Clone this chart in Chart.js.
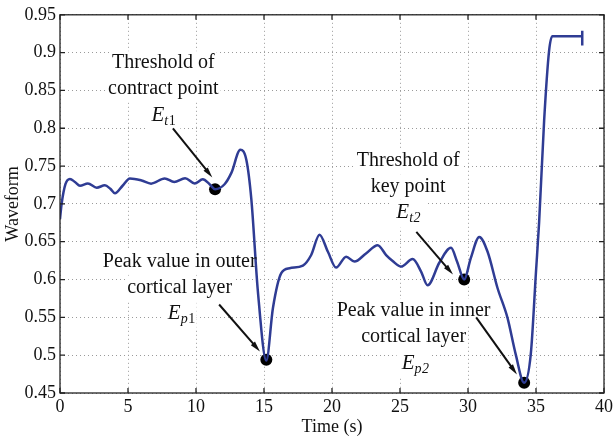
<!DOCTYPE html>
<html>
<head>
<meta charset="utf-8">
<script src="https://cdn.jsdelivr.net/npm/chart.js@4.4.0/dist/chart.umd.min.js"></script>
<style>
  html, body { margin: 0; padding: 0; background: #fff; }
  #wrap { width: 616px; height: 438px; }
</style>
</head>
<body>
<div id="wrap"><canvas id="wave-chart" width="616" height="438"></canvas></div>
<script>
// waveform trace
const time = [0, 0.12, 0.4, 0.73, 1.1, 1.47, 2.05, 2.7, 3.3, 3.7, 4.04, 4.6, 5.14, 6.0, 6.7, 7.7, 8.4, 9.2, 9.9, 10.5,
  11.0, 11.4, 12.1, 12.6, 13.26, 13.7, 14.07, 14.55, 15.17, 15.66, 16.27, 16.88, 17.86, 18.47, 19.08, 19.7, 20.3,
  21.04, 21.65, 22.5, 23.36, 23.98, 24.46, 25.08, 25.93, 26.55, 27.03, 27.9, 28.75, 29.2, 29.72, 30.2, 30.83, 31.44,
  32.17, 32.9, 33.5, 34.13, 34.62, 35.0, 35.23, 35.6, 35.96, 36.2, 38.4];
const wave = [0.68, 0.70, 0.726, 0.733, 0.729, 0.724, 0.727, 0.7215, 0.7245, 0.72, 0.714, 0.724, 0.7337, 0.731, 0.7268,
  0.7337, 0.729, 0.734, 0.727, 0.7325, 0.726, 0.7195, 0.726, 0.741, 0.7715, 0.7585, 0.706, 0.5845, 0.493, 0.5627,
  0.6084, 0.615, 0.6184, 0.6324, 0.6593, 0.6367, 0.6158, 0.6302, 0.6237, 0.6345, 0.6454, 0.6324, 0.6245, 0.6171,
  0.6271, 0.6106, 0.5923, 0.6225, 0.6419, 0.6236, 0.600, 0.628, 0.6563, 0.6367, 0.5888, 0.5496, 0.5018, 0.4635,
  0.502, 0.6106, 0.676, 0.8107, 0.902, 0.9217, 0.9217];

// end cap of the trace
const capTime = [38.4, 38.4];
const capWave = [0.9095, 0.929];

// key points
const keyTime = [11.4, 15.17, 29.72, 34.13];
const keyWave = [0.7195, 0.494, 0.600, 0.4635];

const xTicks = [0, 5, 10, 15, 20, 25, 30, 35, 40];
const yTicks = [0.45, 0.5, 0.55, 0.6, 0.65, 0.7, 0.75, 0.8, 0.85, 0.9, 0.95];

// labels: text lines, E subscript (letter, digit, italic digit?), anchor (data), arrow from/to (data)
const notes = [
  { lines: ['Threshold of', 'contract point'], sub: ['t', '1', false], at: [7.6, 0.886], from: [8.3, 0.80], to: [11.2, 0.735] },
  { lines: ['Peak value in outer', 'cortical layer'], sub: ['p', '1', false], at: [8.8, 0.6236], from: [11.7, 0.567], to: [14.7, 0.505] },
  { lines: ['Threshold of', 'key point'], sub: ['t', '2', true], at: [25.6, 0.757], from: [26.2, 0.663], to: [28.9, 0.6065] },
  { lines: ['Peak value in inner', 'cortical layer'], sub: ['p', '2', true], at: [26.0, 0.5584], from: [30.6, 0.55], to: [33.6, 0.4745] }
];

const SERIF = '"Liberation Serif", "DejaVu Serif", serif';
const LINE = '#2f3c94';

const notesPlugin = {
  id: 'notes',
  beforeDatasetsDraw(chart) {
    const { ctx, scales: { x, y } } = chart;
    ctx.save();
    ctx.font = '20px ' + SERIF;
    ctx.fillStyle = '#fff';
    notes.forEach(n => {
      const cx = x.getPixelForValue(n.at[0]);
      const cy = y.getPixelForValue(n.at[1]);
      n.lines.forEach((t, i) => {
        const w = ctx.measureText(t).width;
        ctx.fillRect(cx - w / 2 - 2, cy + i * 26 - 12, w + 4, 25);
      });
      ctx.fillRect(cx - 17, cy + 52 - 13, 34, 28);
    });
    ctx.restore();
  },
  afterDatasetsDraw(chart) {
    const { ctx, scales: { x, y } } = chart;
    ctx.save();
    ctx.fillStyle = '#111';
    ctx.strokeStyle = '#111';
    ctx.textBaseline = 'middle';
    notes.forEach(n => {
      const cx = x.getPixelForValue(n.at[0]);
      const cy = y.getPixelForValue(n.at[1]);
      ctx.textAlign = 'center';
      ctx.font = '20px ' + SERIF;
      n.lines.forEach((t, i) => ctx.fillText(t, cx, cy + i * 26));
      // E with subscript
      ctx.font = 'italic 21px ' + SERIF;
      ctx.textAlign = 'right';
      ctx.fillText('E', cx + 1, cy + 52);
      ctx.textAlign = 'left';
      ctx.font = 'italic 14px ' + SERIF;
      ctx.fillText(n.sub[0], cx + 1, cy + 58);
      const w = ctx.measureText(n.sub[0]).width;
      ctx.font = (n.sub[2] ? 'italic ' : '') + '14px ' + SERIF;
      ctx.fillText(n.sub[1], cx + 1 + w + 0.5, cy + 58);

      // arrow
      const x0 = x.getPixelForValue(n.from[0]), y0 = y.getPixelForValue(n.from[1]);
      const x1 = x.getPixelForValue(n.to[0]), y1 = y.getPixelForValue(n.to[1]);
      const a = Math.atan2(y1 - y0, x1 - x0);
      ctx.lineWidth = 2;
      ctx.beginPath();
      ctx.moveTo(x0, y0);
      ctx.lineTo(x1 - 6 * Math.cos(a), y1 - 6 * Math.sin(a));
      ctx.stroke();
      ctx.beginPath();
      ctx.moveTo(x1, y1);
      ctx.lineTo(x1 - 11 * Math.cos(a - 0.25), y1 - 11 * Math.sin(a - 0.25));
      ctx.lineTo(x1 - 11 * Math.cos(a + 0.25), y1 - 11 * Math.sin(a + 0.25));
      ctx.closePath();
      ctx.fill();
    });
    ctx.restore();
  },
  afterDraw(chart) {
    const { ctx, chartArea: a, scales: { x, y } } = chart;
    ctx.save();
    ctx.strokeStyle = '#222';
    ctx.lineWidth = 1.3;
    ctx.strokeRect(a.left, a.top, a.right - a.left, a.bottom - a.top);
    // inward tick marks, MATLAB style
    ctx.beginPath();
    xTicks.forEach(v => {
      const px = x.getPixelForValue(v);
      ctx.moveTo(px, a.bottom); ctx.lineTo(px, a.bottom - 5);
      ctx.moveTo(px, a.top); ctx.lineTo(px, a.top + 5);
    });
    yTicks.forEach(v => {
      const py = y.getPixelForValue(v);
      ctx.moveTo(a.left, py); ctx.lineTo(a.left + 5, py);
      ctx.moveTo(a.right, py); ctx.lineTo(a.right - 5, py);
    });
    ctx.stroke();
    ctx.restore();
  }
};

new Chart(document.getElementById('wave-chart'), {
  type: 'line',
  data: {
    datasets: [{
      data: time.map((t, i) => ({ x: t, y: wave[i] })),
      borderColor: LINE,
      borderWidth: 2.5,
      pointRadius: 0,
      cubicInterpolationMode: 'monotone',
      fill: false
    }, {
      data: capTime.map((t, i) => ({ x: t, y: capWave[i] })),
      borderColor: LINE,
      borderWidth: 2.5,
      pointRadius: 0,
      fill: false
    }, {
      data: keyTime.map((t, i) => ({ x: t, y: keyWave[i] })),
      showLine: false,
      pointRadius: 6,
      pointBorderWidth: 0,
      pointBackgroundColor: '#000',
      pointBorderColor: '#000'
    }]
  },
  plugins: [notesPlugin],
  options: {
    responsive: false,
    animation: false,
    layout: { padding: { top: 10, right: 11, left: 0, bottom: 0 } },
    plugins: { legend: { display: false }, tooltip: { enabled: false } },
    scales: {
      x: {
        type: 'linear',
        min: 0, max: 40,
        afterFit: s => { s.height = 45; },
        afterBuildTicks: s => { s.ticks = xTicks.map(v => ({ value: v })); },
        grid: { color: '#9a9a9a', lineWidth: 1, drawTicks: false },
        border: { display: false, dash: [1, 3] },
        ticks: { color: '#111', padding: 3, font: { family: SERIF, size: 18 }, maxRotation: 0 },
        title: { display: true, text: 'Time (s)', color: '#111', padding: 0, font: { family: SERIF, size: 18 } }
      },
      y: {
        min: 0.45, max: 0.95,
        afterFit: s => { s.width = 60; },
        afterBuildTicks: s => { s.ticks = yTicks.map(v => ({ value: v })); },
        grid: { color: '#9a9a9a', lineWidth: 1, drawTicks: false },
        border: { display: false, dash: [1, 3] },
        ticks: { color: '#111', padding: 4, font: { family: SERIF, size: 18 }, callback: v => String(+v.toFixed(2)) },
        title: { display: true, text: 'Waveform', color: '#111', padding: { top: 2, bottom: 0 }, font: { family: SERIF, size: 18 } }
      }
    }
  }
});
</script>
</body>
</html>
